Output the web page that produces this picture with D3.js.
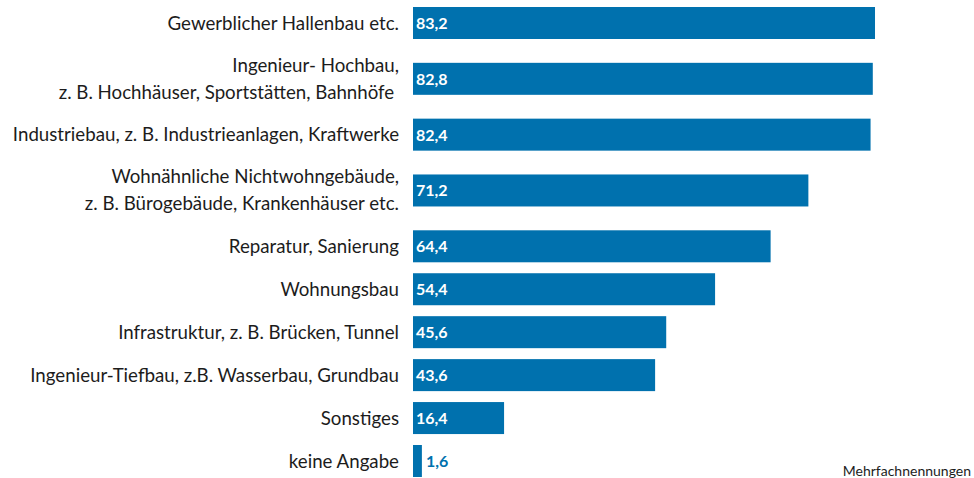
<!DOCTYPE html>
<html>
<head>
<meta charset="utf-8">
<script src="https://cdn.jsdelivr.net/npm/d3@7"></script>
<style>
  body { margin: 0; background: #fff; }
  svg { display: block; font-family: Lato, 'Open Sans', sans-serif; }
</style>
</head>
<body>
<div id="chart_parent"></div>
<script>
// categories (one entry per line of the label), top to bottom
const categories = [
    ['Gewerblicher Hallenbau etc.'],
    ['Ingenieur- Hochbau,', 'z. B. Hochhäuser, Sportstätten, Bahnhöfe\u00a0'],
    ['Industriebau, z. B. Industrieanlagen, Kraftwerke'],
    ['Wohnähnliche Nichtwohngebäude,', 'z. B. Bürogebäude, Krankenhäuser etc.'],
    ['Reparatur, Sanierung'],
    ['Wohnungsbau'],
    ['Infrastruktur, z. B. Brücken, Tunnel'],
    ['Ingenieur-Tiefbau, z.B. Wasserbau, Grundbau'],
    ['Sonstiges'],
    ['keine Angabe'],
];
const values = [83.2, 82.8, 82.4, 71.2, 64.4, 54.4, 45.6, 43.6, 16.4, 1.6];
const footnote = 'Mehrfachnennungen';

const config = {
    width: 974,
    height: 478,
    barLeft: 413,
    pxPerUnit: 5.553,
    barHeight: 32,
    firstCenter: 23,
    lastCenter: 461,
    extraPerLine: 0.6,
    barColor: '#0071ae',
    textColor: '#1c1c1c',
};

function fmt(v) {
    return d3.format('.1f')(v).replace('.', ',');
}

// row centres in "row units": two-line labels take a bit more room
function rowCentres(cats) {
    let acc = 0;
    return cats.map(c => {
        const h = 1 + (c.length - 1) * config.extraPerLine;
        const centre = acc + h / 2;
        acc += h;
        return centre;
    });
}

const data = categories.map((c, i) => ({ lines: c, value: values[i] }));
const centres = rowCentres(categories);

const yScale = d3.scaleLinear()
    .domain([centres[0], centres[centres.length - 1]])
    .range([config.firstCenter, config.lastCenter]);

const xScale = d3.scaleLinear()
    .domain([0, 100])
    .range([config.barLeft, config.barLeft + 100 * config.pxPerUnit]);

const svg = d3.select('#chart_parent').append('svg')
    .attr('width', config.width)
    .attr('height', config.height);

const rows = svg.selectAll('.row')
    .data(data)
    .enter()
    .append('g')
    .attr('class', 'row')
    .attr('transform', (d, i) => `translate(0,${yScale(centres[i])})`);

rows.append('rect')
    .attr('x', xScale(0))
    .attr('y', -config.barHeight / 2)
    .attr('width', d => xScale(d.value) - xScale(0))
    .attr('height', config.barHeight)
    .attr('fill', config.barColor);

// category labels, right aligned left of the bars
rows.append('text')
    .attr('x', 399)
    .attr('text-anchor', 'end')
    .attr('fill', config.textColor)
    .style('font-size', '18.7px')
    .each(function (d) {
        const n = d.lines.length;
        const lh = 27;
        d3.select(this).selectAll('tspan')
            .data(d.lines)
            .enter()
            .append('tspan')
            .attr('x', 399)
            .attr('y', (l, j) => (j - (n - 1) / 2) * lh + 6.5)
            .text(l => l);
    });

// value labels: inside the bar if it is wide enough, else just after it
rows.append('text')
    .attr('x', d => (xScale(d.value) - xScale(0) > 40 ? xScale(0) + 3 : xScale(d.value) + 4))
    .attr('y', 6)
    .attr('fill', d => (xScale(d.value) - xScale(0) > 40 ? '#fff' : config.barColor))
    .style('font-size', '16px')
    .style('font-weight', 'bold')
    .text(d => fmt(d.value));

svg.append('text')
    .attr('x', 971)
    .attr('y', 476)
    .attr('text-anchor', 'end')
    .attr('fill', config.textColor)
    .style('font-size', '14px')
    .text(footnote);
</script>
</body>
</html>
